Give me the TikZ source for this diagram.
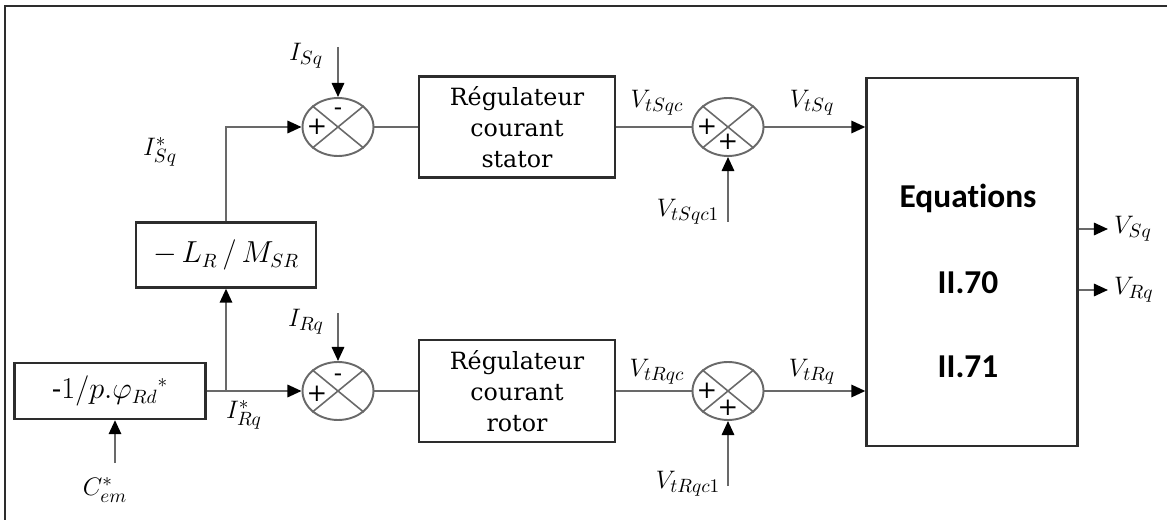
\documentclass[tikz,border=0pt]{standalone}
\usepackage{fontspec}
\setmainfont{DejaVu Serif}
\newfontfamily\eqfont[Ligatures=NoCommon]{Carlito}
\usetikzlibrary{calc,positioning,arrows.meta,shapes.geometric}
\definecolor{lnGrey}{RGB}{105,105,105}
\definecolor{boxDark}{RGB}{45,45,45}
\tikzset{
  sig/.style={draw=lnGrey,line width=1.3pt},
  arr/.style={sig,-{Triangle[length=8pt,width=7pt,color=black]}},
  blk/.style={draw=boxDark,line width=1.3pt,align=center,inner sep=0pt,font=\fontsize{13.5}{17.5}\selectfont},
  sumnode/.style={ellipse,draw=lnGrey,line width=1.1pt,minimum width=1.42cm,minimum height=1.16cm,inner sep=0pt},
  lbl/.style={font=\fontsize{15.5}{17}\selectfont},
  sgn/.style={font=\fontsize{14}{15}\selectfont,inner sep=0pt},
  eqtext/.style={font=\eqfont\bfseries\fontsize{19}{22}\selectfont},
}
\newcommand{\xsum}[1]{%
  \draw[lnGrey,line width=0.9pt] (#1.north east) -- (#1.south west);
  \draw[lnGrey,line width=0.9pt] (#1.north west) -- (#1.south east);}
\begin{document}
\begin{tikzpicture}[x=0.02cm,y=-0.02cm]
  \useasboundingbox (0,0) rectangle (1167,520);
  \draw[boxDark,line width=1.6pt] (5,520) -- (5,6) -- (1167,6);

  \node[blk,minimum width=3.92cm,minimum height=2.02cm] (regS) at (517,127) {Régulateur\\courant\\stator};
  \node[blk,minimum width=3.92cm,minimum height=2.04cm] (regR) at (517,391) {Régulateur\\courant\\rotor};
  \node[blk,minimum width=4.22cm,minimum height=7.36cm] (eq) at (972,262) {};
  \node[blk,minimum width=3.6cm,minimum height=1.3cm,font=\fontsize{16}{18}\selectfont] (gain) at (226,255) {$-\,L_R\,/\,M_{SR}$};
  \node[blk,minimum width=3.82cm,minimum height=1.12cm,font=\fontsize{16}{18}\selectfont] (cbox) at (110,391) {$\mbox{-}1/p.\varphi_{Rd}{}^*$};

  \node[eqtext] (eqa) at (968,198) {Equations};
  \node[eqtext] (eqb) at (968,283) {II.70};
  \node[eqtext] (eqc) at (968,367) {II.71};

  \node[sumnode] (sS1) at (338,127) {};
  \node[sumnode] (sR1) at (338,391) {};
  \node[sumnode] (sS2) at (728,127) {};
  \node[sumnode] (sR2) at (728,391) {};
  \xsum{sS1}\xsum{sR1}\xsum{sS2}\xsum{sR2}
  \node[sgn] at ($(sS1.center)+(-21,0)$) {+};
  \node[sgn] at ($(sS1.center)+(0,-15)$) {-};
  \node[sgn] at ($(sR1.center)+(-21,3)$) {+};
  \node[sgn] at ($(sR1.center)+(0,-13)$) {-};
  \node[sgn] at ($(sS2.center)+(-21,0)$) {+};
  \node[sgn] at ($(sS2.center)+(0,15)$) {+};
  \node[sgn] at ($(sR2.center)+(-21,0)$) {+};
  \node[sgn] at ($(sR2.center)+(0,17)$) {+};

  \coordinate (br) at (226,391);
  \coordinate (cin) at (115,463);
  \coordinate (isq) at (338,47);
  \coordinate (irq) at (338,313);
  \coordinate (vsqc1) at (728,222);
  \coordinate (vrqc1) at (728,486);
  \coordinate (vsq) at (1108,229);
  \coordinate (vrq) at (1108,290);

  \draw[arr] (gain.north) |- (sS1.west);
  \draw[arr] (cbox.east) -- (sR1.west);
  \draw[arr] (br) -- (gain.south);
  \draw[arr] (cin) -- (cin |- cbox.south);
  \draw[arr] (isq) -- (sS1.north);
  \draw[arr] (irq) -- (sR1.north);
  \draw[sig] (sS1.east) -- (regS.west);
  \draw[sig] (sR1.east) -- (regR.west);
  \draw[sig] (regS.east) -- (sS2.west);
  \draw[sig] (regR.east) -- (sR2.west);
  \draw[arr] (vsqc1) -- (sS2.south);
  \draw[arr] (vrqc1) -- (sR2.south);
  \draw[arr] (sS2.east) -- (sS2.east -| eq.west);
  \draw[arr] (sR2.east) -- (sR2.east -| eq.west);
  \draw[arr] (vsq -| eq.east) -- (vsq);
  \draw[arr] (vrq -| eq.east) -- (vrq);

  \node[lbl] (lisq) at (160,152) {$I^*_{Sq}$};
  \node[lbl] (lirq) at (244,415) {$I^*_{Rq}$};
  \node[lbl] (lcem) at (105,490) {$C^*_{em}$};
  \node[lbl] (lisqm) at (306,56) {$I_{Sq}$};
  \node[lbl] (lirqm) at (306,322) {$I_{Rq}$};
  \node[lbl] (lvsqc) at (657,103) {$V_{tSqc}$};
  \node[lbl] (lvsq) at (812,103) {$V_{tSq}$};
  \node[lbl] (lvsqc1) at (688,212) {$V_{tSqc1}$};
  \node[lbl] (lvrqc) at (657,372) {$V_{tRqc}$};
  \node[lbl] (lvrq) at (812,372) {$V_{tRq}$};
  \node[lbl] (lvrqc1) at (688,484) {$V_{tRqc1}$};
  \node[lbl,right=0pt of vsq] (lvs) {$V_{Sq}$};
  \node[lbl,right=0pt of vrq] (lvr) {$V_{Rq}$};
\end{tikzpicture}
\end{document}
